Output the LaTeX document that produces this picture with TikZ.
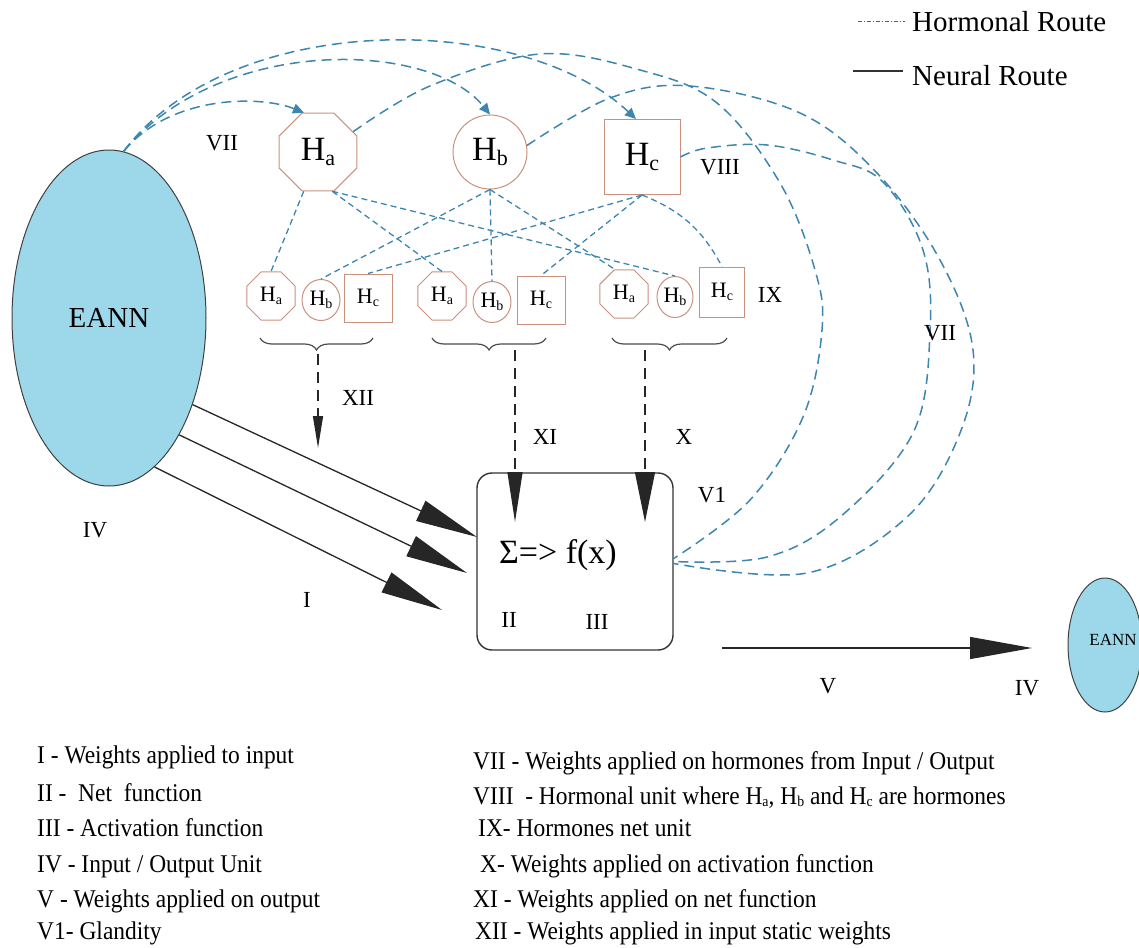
\documentclass[tikz,border=0pt]{standalone}
\usepackage{fontspec}
\setmainfont{Liberation Serif}
\newfontfamily\legfont{Liberation Serif}[FakeStretch=0.92]
\usetikzlibrary{shapes.geometric,arrows.meta,decorations.pathreplacing}
\definecolor{hbrown}{HTML}{C9907E}
\definecolor{hblue}{HTML}{3D86AE}
\definecolor{efill}{HTML}{9DD8EA}
\definecolor{legteal}{HTML}{2F6F70}
\newcommand{\fs}[1]{\fontsize{#1}{#1}\selectfont}
\newcommand{\Hsub}[3]{{\fs{#2}H\raisebox{-0.12em}{\fs{#3}#1}}}
\begin{document}
\begin{tikzpicture}[x=1pt,y=-1pt,
  eannst/.style={draw=black!75, fill=efill, ellipse, line width=1pt, inner sep=0pt},
  hoct/.style={regular polygon, regular polygon sides=8, draw=hbrown, line width=1pt, inner sep=0pt},
  hcirc/.style={ellipse, draw=hbrown, line width=1pt, inner sep=0pt},
  hsq/.style={rectangle, draw=hbrown, line width=1pt, inner sep=0pt},
  lab/.style={inner sep=0pt, font=\fs{23}},
  legl/.style={anchor=base west, inner sep=0pt, font=\legfont\fs{25.5}},
  hroute/.style={draw=hblue, line width=1.5pt, dash pattern=on 10pt off 6pt},
  hline/.style={draw=hblue, line width=1.3pt, dash pattern=on 6pt off 4pt},
  harrow/.style={-{Triangle[length=11pt,width=10pt]}},
  neural/.style={draw=black!85, line width=1.3pt, -{Triangle[length=62pt,width=22pt]}},
  wdash/.style={draw=black!85, line width=1.4pt, dash pattern=on 11pt off 7pt},
  bracest/.style={draw=black!70, line width=1.2pt, decorate, decoration={brace, mirror, amplitude=12pt}}
]
\useasboundingbox (0,0) rectangle (1139,947);

% EANN units
\node[eannst, minimum width=194pt, minimum height=336pt] (eann) at (109,318) {\raisebox{-7pt}{\fs{29}EANN}};
\node[eannst, minimum width=74pt, minimum height=134pt] (seann) at (1105,645) {};
\node[inner sep=0pt] (seanntxt) at (1113,640) {\fs{17}EANN};

% top hormones
\node[hoct, minimum size=84pt] (ha) at (318,152) {\Hsub{a}{34}{22}};
\node[hcirc, minimum width=74pt, minimum height=74pt] (hb) at (490,152) {\Hsub{b}{34}{22}};
\node[hsq, minimum width=76pt, minimum height=75pt] (hc) at (642,157) {\Hsub{c}{34}{22}};

% small hormones
\node[hoct, minimum size=52pt] (g1a) at (271,296) {\Hsub{a}{22}{14}};
\node[hcirc, minimum width=38pt, minimum height=41pt] (g1b) at (321,300) {\Hsub{b}{22}{14}};
\node[hsq, minimum width=48pt, minimum height=48pt] (g1c) at (368,298) {\Hsub{c}{22}{14}};
\node[hoct, minimum size=52pt] (g2a) at (442,296) {\Hsub{a}{22}{14}};
\node[hcirc, minimum width=38pt, minimum height=41pt] (g2b) at (492,302) {\Hsub{b}{22}{14}};
\node[hsq, minimum width=48pt, minimum height=48pt] (g2c) at (541,300) {\Hsub{c}{22}{14}};
\node[hoct, minimum size=52pt] (g3a) at (624,294) {\Hsub{a}{22}{14}};
\node[hcirc, minimum width=36pt, minimum height=41pt] (g3b) at (675,297) {\Hsub{b}{22}{14}};
\node[hsq, minimum width=45pt, minimum height=50pt] (g3c) at (722,292) {\Hsub{c}{22}{14}};

% net unit
\node[draw=black!80, line width=1.4pt, rounded corners=15pt, minimum width=196pt, minimum height=177pt] (net) at (575,561.5) {};
\node[inner sep=0pt] (sigma) at (558,555) {\fs{34}Σ=> f(x)};

% braces
\draw[bracest] (260,338) -- (373,338);
\draw[bracest] (432,338) -- (546,338);
\draw[bracest] (612,338) -- (727,338);
\coordinate (b1) at (318,354);
\coordinate (b1e) at (318,448);
\coordinate (b2) at (515,350);
\coordinate (b2e) at (515,522);
\coordinate (b3) at (645,350);
\coordinate (b3e) at (645,522);
\draw[wdash, -{Triangle[length=32pt,width=10pt]}] (b1) -- (b1e);
\draw[wdash, -{Triangle[length=50pt,width=15pt]}] (b2) -- (b2e);
\draw[wdash, -{Triangle[length=50pt,width=20pt]}] (b3) -- (b3e);

% neural routes
\coordinate (n1) at (477,537);
\coordinate (n2) at (467,573);
\coordinate (n3) at (442,610);
\draw[neural] (eann.-46) -- (n1);
\draw[neural] (eann.-59) -- (n2);
\draw[neural] (eann.-73) -- (n3);
\coordinate (vs) at (722,648);
\coordinate (ve) at (1032,648);
\draw[neural] (vs) -- (ve);

% hormonal routes from EANN to hormones
\draw[hroute, harrow] (eann.85) .. controls (170,95) and (260,95) .. ([xshift=-14pt]ha.north);
\draw[hroute, harrow] (eann.85) .. controls (220,35) and (430,40) .. (hb.north);
\draw[hroute, harrow] (eann.85) .. controls (230,10) and (520,10) .. ([xshift=-6pt]hc.north);

% large glandity arcs
\draw[hroute] plot[smooth, tension=0.6] coordinates {(ha.30) (430,86) (540,54) (640,70) (717,103) (780,183) (815,270) (822,330) (803,417) (750,500) ([yshift=3pt]net.east)};
\draw[hroute] plot[smooth, tension=0.6] coordinates {(hb.10) (610,98) (690,86) (800,113) (877,173) (940,260) (973,350) (960,433) (907,517) (807,573) ([yshift=-2pt]net.east)};
\draw[hroute] plot[smooth, tension=0.6] coordinates {(hc.east) (707,148) (767,145) (833,160) (883,182) (923,250) (930,333) (913,433) (840,517) (767,557) (net.east)};

% hormone net connections
\draw[hline] (ha.250) -- (g1a.north);
\draw[hline] (ha.290) -- (g2a.north);
\draw[hline] (ha.290) -- (g3b.north);
\draw[hline] (hb.south) -- (g1b.north);
\draw[hline] (hb.south) -- (g2b.north);
\draw[hline] (hb.south) -- (g3a.110);
\draw[hline] (hc.south) -- (g1c.north);
\draw[hline] (hc.south) -- (g2c.north);
\draw[hline] (hc.south) to[bend left=20] (g3c.north);

% labels
\node[lab] (l7a) at (222,143) {VII};
\node[lab] (l8) at (720,167) {VIII};
\node[lab] (l9) at (770,295) {IX};
\node[lab] (l12) at (358,398) {XII};
\node[lab] (l11) at (545,437) {XI};
\node[lab] (l10) at (684,437) {X};
\node[lab] (lv1) at (712,495) {V1};
\node[lab] (l7b) at (940,333) {VII};
\node[lab] (l4a) at (95,530) {IV};
\node[lab] (l1) at (307,600) {I};
\node[lab] (l2) at (509,620) {II};
\node[lab] (l3) at (597,622) {III};
\node[lab] (l5) at (828,686) {V};
\node[lab] (l4b) at (1027,688) {IV};

% top-right legend
\coordinate (lh1) at (858,22);
\coordinate (lh2) at (905,22);
\draw[draw=legteal, line width=1pt, dash pattern=on 4pt off 2pt on 1pt off 2pt] (lh1) -- (lh2);
\node[anchor=base west, inner sep=0pt] (lht) at (912,32) {\fs{29}Hormonal Route};
\coordinate (ln1) at (853,71);
\coordinate (ln2) at (903,71);
\draw[draw=black!80, line width=1.2pt] (ln1) -- (ln2);
\node[anchor=base west, inner sep=0pt] (lnt) at (912,86) {\fs{29}Neural Route};

% bottom legend, left
\node[legl] (t1) at (37,763) {I - Weights applied to input};
\node[legl] (t2) at (37,801) {II -\ \ Net\ \ function};
\node[legl] (t3) at (37,836) {III - Activation function};
\node[legl] (t4) at (37,872) {IV - Input / Output Unit};
\node[legl] (t5) at (37,907) {V - Weights applied on output};
\node[legl] (t6) at (37,939) {V1- Glandity};
% bottom legend, right
\node[legl] (t7) at (473,769) {VII - Weights applied on hormones from Input / Output};
\node[legl] (t8) at (473,804) {VIII\ \ - Hormonal unit where H\raisebox{-0.2ex}{\fs{15}a}, H\raisebox{-0.2ex}{\fs{15}b} and H\raisebox{-0.2ex}{\fs{15}c} are hormones};
\node[legl] (t9) at (478,836) {IX- Hormones net unit};
\node[legl] (t10) at (480,872) {X- Weights applied on activation function};
\node[legl] (t11) at (473,907) {XI - Weights applied on net function};
\node[legl] (t12) at (475,939) {XII - Weights applied in input static weights};
\end{tikzpicture}
\end{document}
